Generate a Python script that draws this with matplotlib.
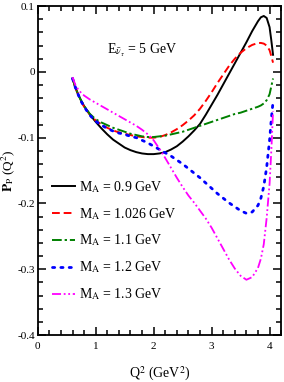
import numpy as np
import matplotlib
matplotlib.use("Agg")
import matplotlib.pyplot as plt
from matplotlib.ticker import MultipleLocator, FuncFormatter

plt.rcParams['font.family'] = ['Liberation Serif', 'DejaVu Serif']
plt.rcParams['mathtext.fontset'] = 'stix'

# curves
q2 = [0.6, 0.65, 0.7, 0.75, 0.8, 0.9, 1.0, 1.1, 1.2, 1.3, 1.4, 1.5, 1.6, 1.7,
      1.8, 1.9, 2.0, 2.1, 2.2, 2.3, 2.4, 2.5, 2.6, 2.7, 2.8, 2.9, 3.0, 3.1, 3.2,
      3.3, 3.4, 3.5, 3.6, 3.7, 3.8, 3.85, 3.9, 3.95, 4.0, 4.03, 4.06]
p_09 = [-0.010, -0.024, -0.035, -0.044, -0.052, -0.065, -0.076, -0.086, -0.095,
        -0.103, -0.109, -0.115, -0.119, -0.122, -0.124, -0.125, -0.125, -0.124,
        -0.122, -0.118, -0.113, -0.106, -0.098, -0.089, -0.079, -0.065, -0.050,
        -0.035, -0.019, -0.003, 0.013, 0.029, 0.045, 0.062, 0.077, 0.083, 0.085,
        0.082, 0.068, 0.048, 0.026]
p_1026 = [-0.010, -0.024, -0.035, -0.045, -0.053, -0.065, -0.074, -0.080, -0.085,
          -0.089, -0.092, -0.094, -0.096, -0.098, -0.099, -0.100, -0.100, -0.099,
          -0.096, -0.092, -0.087, -0.081, -0.074, -0.066, -0.056, -0.044, -0.031,
          -0.017, -0.004, 0.009, 0.020, 0.029, 0.036, 0.041, 0.044, 0.044, 0.043,
          0.040, 0.033, 0.024, 0.014]
p_11 = [-0.010, -0.024, -0.035, -0.044, -0.052, -0.064, -0.072, -0.077, -0.081,
        -0.085, -0.088, -0.091, -0.094, -0.096, -0.098, -0.099, -0.099, -0.098,
        -0.097, -0.095, -0.093, -0.091, -0.088, -0.085, -0.082, -0.079, -0.076,
        -0.073, -0.070, -0.067, -0.064, -0.062, -0.059, -0.056, -0.053, -0.051,
        -0.048, -0.043, -0.034, -0.022, -0.010]
p_12 = [-0.010, -0.024, -0.035, -0.045, -0.053, -0.066, -0.075, -0.081, -0.086,
        -0.090, -0.093, -0.095, -0.098, -0.100, -0.104, -0.108, -0.113, -0.118,
        -0.123, -0.128, -0.134, -0.140, -0.147, -0.154, -0.161, -0.169, -0.177,
        -0.185, -0.192, -0.199, -0.205, -0.211, -0.215, -0.213, -0.203, -0.192,
        -0.174, -0.145, -0.104, -0.072, -0.045]
p_13 = [-0.008, -0.020, -0.027, -0.032, -0.036, -0.042, -0.047, -0.052, -0.057,
        -0.062, -0.067, -0.072, -0.077, -0.082, -0.088, -0.095, -0.104, -0.117,
        -0.131, -0.146, -0.161, -0.175, -0.188, -0.199, -0.211, -0.223, -0.237,
        -0.253, -0.269, -0.285, -0.299, -0.310, -0.316, -0.312, -0.298, -0.284,
        -0.262, -0.222, -0.170, -0.120, -0.060]

labels = [r'M$_{\rm A}$ = 0.9 GeV', r'M$_{\rm A}$ = 1.026 GeV', r'M$_{\rm A}$ = 1.1 GeV',
          r'M$_{\rm A}$ = 1.2 GeV', r'M$_{\rm A}$ = 1.3 GeV']

fig = plt.figure(figsize=(2.84, 3.82), dpi=100)
ax = fig.add_axes([0.133, 0.123, 0.857, 0.861])

ax.plot(q2, p_09, color='black', lw=1.4, ls='-', label=labels[0])
ax.plot(q2, p_1026, color='red', lw=1.4, ls=(0, (4, 2)), label=labels[1])
ax.plot(q2, p_11, color='green', lw=1.4, ls=(0, (5, 1.5, 1.2, 1.5)), label=labels[2])
ax.plot(q2, p_12, color='blue', lw=2.0, ls=(0, (0.8, 2.2)), dash_capstyle='round',
        label=labels[3])
ax.plot(q2, p_13, color='magenta', lw=1.3, ls=(0, (5, 1.5, 1, 1.5, 1, 1.5)), label=labels[4])

ax.set_xlim(0, 4.2)
ax.set_ylim(-0.4, 0.1)
ax.xaxis.set_major_locator(MultipleLocator(1))
ax.xaxis.set_minor_locator(MultipleLocator(0.2))
ax.yaxis.set_major_locator(MultipleLocator(0.1))
ax.yaxis.set_minor_locator(MultipleLocator(0.02))
ax.yaxis.set_major_formatter(FuncFormatter(lambda v, p: '0' if abs(v) < 1e-9 else '%g' % round(v, 1)))
ax.tick_params(which='both', direction='in', top=True, right=True, labelsize=8, width=1.1)
ax.tick_params(which='major', length=6)
ax.tick_params(which='minor', length=3.5)
ax.tick_params(axis='x', pad=5)
ax.tick_params(axis='y', pad=2)
for s in ax.spines.values():
    s.set_linewidth(1.3)

ax.set_xlabel(r'Q$^2$ (GeV$^2$)', fontsize=10, labelpad=10)
ax.set_ylabel(r'$\mathbf{P}_{\rm P}$ (Q$^2$)', fontsize=9.5)
ax.yaxis.set_label_coords(-0.085, 0.5)

ax.text(1.2, 0.028, r'E$_{\bar{\nu}_\tau}$ = 5 GeV', fontsize=10)

ax.legend(loc='lower left', bbox_to_anchor=(0.02, 0.07), frameon=False, fontsize=10,
          handlelength=1.6, handletextpad=0.3, labelspacing=0.8, borderpad=0.2)

fig.savefig('out.png', dpi=100)
